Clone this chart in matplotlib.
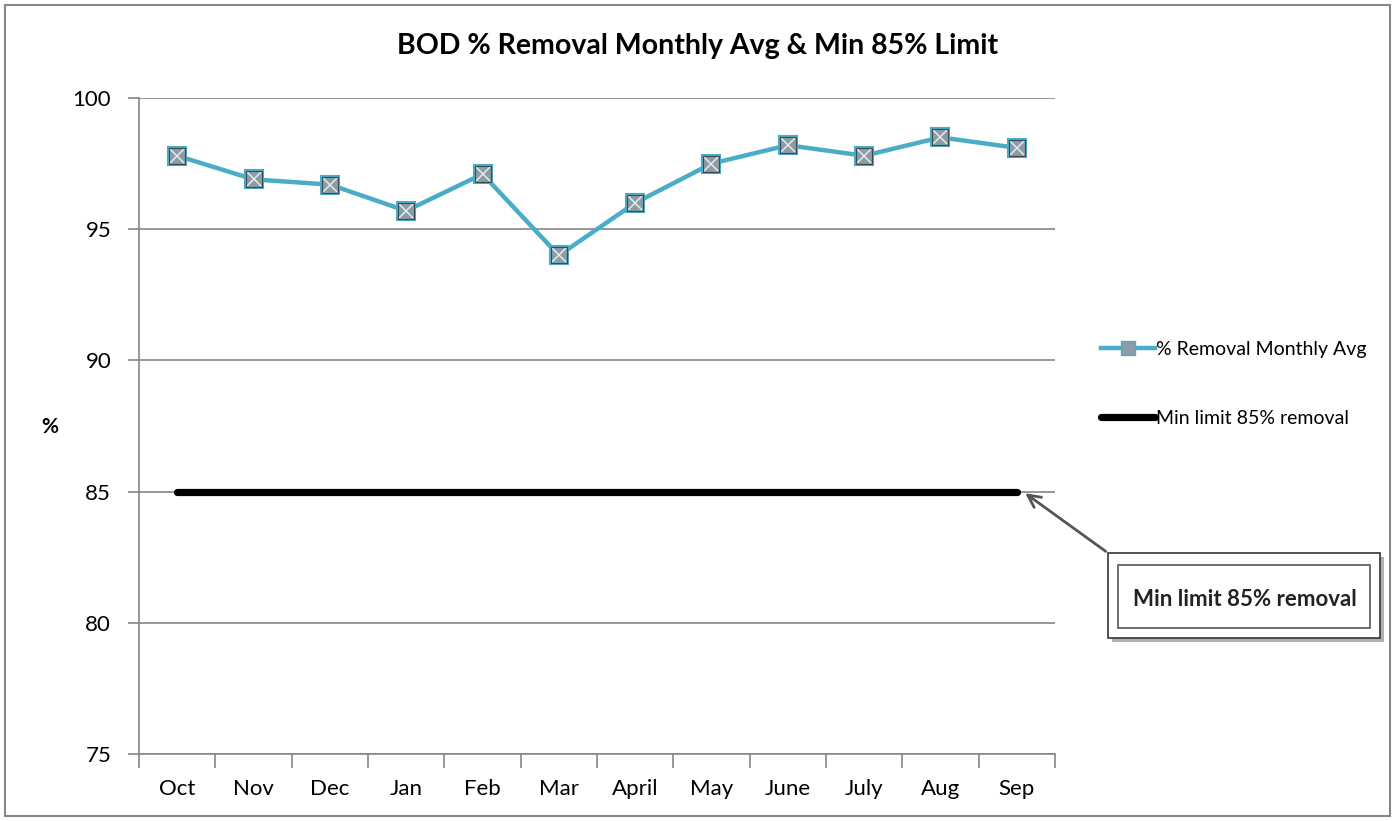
import numpy as np
import matplotlib.pyplot as plt
from matplotlib.patches import Rectangle
from matplotlib.lines import Line2D

# Data ===================================
months = ['Oct', 'Nov', 'Dec', 'Jan', 'Feb', 'Mar', 'April', 'May', 'June', 'July', 'Aug', 'Sep']
removal_avg = [97.8, 96.9, 96.7, 95.7, 97.1, 94.0, 96.0, 97.5, 98.2, 97.8, 98.5, 98.1]
min_limit = [85] * 12
y_ticks = [75, 80, 85, 90, 95, 100]

plt.rcParams['font.family'] = ['Lato', 'DejaVu Sans']

teal = '#4bacc6'
grid_gray = '#868686'

fig = plt.figure(figsize=(13.95, 8.21), dpi=100)
ax = fig.add_axes([139 / 1395, 1 - 754 / 821, (1055 - 139) / 1395, (754 - 98) / 821])

x = np.arange(len(months))

# limit line first, series on top
ax.plot(x, min_limit, color='black', lw=5.2, solid_capstyle='round',
        label='Min limit 85% removal', zorder=3)
ax.plot(x, removal_avg, color=teal, lw=3.2, marker='s', markersize=13,
        markerfacecolor='#8c9ca4', markeredgecolor=teal, markeredgewidth=1.5,
        label='% Removal Monthly Avg', zorder=4)
# bevel look on the markers
ax.plot(x, removal_avg, ls='none', marker='x', markersize=9.5,
        markeredgecolor='#e4eaee', markeredgewidth=1.1, zorder=5)
ax.plot(x, removal_avg, ls='none', marker='s', markersize=11,
        markerfacecolor='none', markeredgecolor='#3c4a52', markeredgewidth=0.8, zorder=5)

ax.set_xlim(-0.5, 11.5)
ax.set_ylim(75, 100)
ax.set_yticks(y_ticks)
ax.set_xticks(x)
ax.set_xticklabels(months)
ax.set_xticks(np.arange(-0.5, 12, 1), minor=True)
ax.tick_params(axis='x', which='major', length=0, pad=18, labelsize=16)
ax.tick_params(axis='x', which='minor', length=10, width=1.2, color=grid_gray)
ax.tick_params(axis='y', length=8, width=1.2, color=grid_gray, pad=12, labelsize=16)

ax.grid(axis='y', color=grid_gray, lw=1.2)
ax.set_axisbelow(True)
for s in ['top', 'right']:
    ax.spines[s].set_visible(False)
for s in ['left', 'bottom']:
    ax.spines[s].set_color(grid_gray)
    ax.spines[s].set_linewidth(1.2)

fig.text(50 / 1395, 1 - 427 / 821, '%', ha='center', va='center',
         fontsize=15, fontweight='bold')

fig.text(698 / 1395, 1 - 46 / 821, 'BOD % Removal Monthly Avg & Min 85% Limit',
         ha='center', va='center', fontsize=20.5, fontweight='bold')

# legend on the right
h1 = Line2D([], [], color=teal, lw=3.2, marker='s', markersize=10,
            markerfacecolor='#8c9ca4', markeredgecolor=teal)
h2 = Line2D([], [], color='black', lw=5.2, solid_capstyle='round')
fig.legend([h1, h2], ['% Removal Monthly Avg', 'Min limit 85% removal'],
           loc='upper left', bbox_to_anchor=(1083 / 1395, 1 - 323 / 821),
           frameon=False, fontsize=14, handlelength=2.8, handletextpad=0.05,
           labelspacing=2.7)

# callout box with arrow to the limit line
fig.patches.append(Rectangle((1112 / 1395, 1 - 642 / 821), 272 / 1395, 85 / 821,
                             transform=fig.transFigure, facecolor='#b0b0b0',
                             edgecolor='none', zorder=1))
fig.patches.append(Rectangle((1108 / 1395, 1 - 638 / 821), 272 / 1395, 85 / 821,
                             transform=fig.transFigure, facecolor='white',
                             edgecolor='#333333', lw=1.2, zorder=2))
fig.patches.append(Rectangle((1118 / 1395, 1 - 628 / 821), 252 / 1395, 63 / 821,
                             transform=fig.transFigure, facecolor='white',
                             edgecolor='#555555', lw=1.2, zorder=3))
fig.text(1245 / 1395, 1 - 600 / 821, 'Min limit 85% removal', ha='center', va='center',
         fontsize=16, fontweight='bold', color='#222222', zorder=4)
ax.annotate('', xy=(11.08, 85), xycoords='data',
            xytext=(1108 / 1395, 1 - 553 / 821), textcoords='figure fraction',
            arrowprops=dict(arrowstyle='->,head_length=0.9,head_width=0.45',
                            color='#555555', lw=2), annotation_clip=False)

# outer chart border
fig.patches.append(Rectangle((5 / 1395, 5 / 821), 1385 / 1395, 811 / 821,
                             transform=fig.transFigure, fill=False,
                             edgecolor=grid_gray, lw=1.5))

fig.savefig('out.png', dpi=100)
